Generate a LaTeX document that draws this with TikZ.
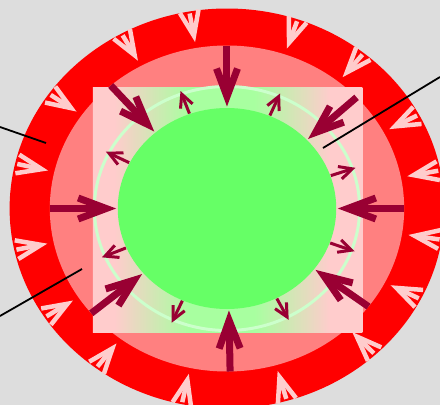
\documentclass[tikz,border=0pt]{standalone}
\usetikzlibrary{arrows.meta}

\definecolor{bggray}{HTML}{DDDDDD}
\definecolor{ringred}{HTML}{FF0000}
\definecolor{ringpink}{HTML}{FF8080}
\definecolor{palepink}{HTML}{FFCCCC}
\definecolor{sqgreen}{HTML}{A8FFA0}
\definecolor{rimgreen}{HTML}{CCFFCC}
\definecolor{coregreen}{HTML}{66FF66}
\definecolor{darkarrow}{HTML}{990033}

\pgfdeclarehorizontalshading{squarefade}{100bp}{color(0bp)=(palepink); color(29bp)=(palepink); color(43bp)=(sqgreen); color(55bp)=(sqgreen); color(69bp)=(palepink); color(100bp)=(palepink)}

\tikzset{
  palearrow/.style={draw=palepink, line width=4.5pt, -{Straight Barb[length=25pt,width=19pt]}},
  bigarrow/.style={draw=darkarrow, line width=7pt, -{Straight Barb[length=28pt,width=21pt]}},
  smallarrow/.style={draw=darkarrow, line width=3pt, -{Straight Barb[length=13pt,width=13pt]}},
  callout/.style={draw=black, line width=1.8pt}
}

\begin{document}
\begin{tikzpicture}[x=1pt, y=1pt]
  \useasboundingbox (-227,-196.5) rectangle (213,208.5);
  \clip (-227,-196.5) rectangle (213,208.5);
  \fill[bggray] (-227,-196.5) rectangle (213,208.5);
  \begin{scope}[xscale=1.087]
    % outer rings
    \fill[ringred] (0,0) circle (200);
    \fill[ringpink] (0,0) circle (163);
    % pale arrows in the red ring
    \foreach \a in {11,28,51,71,100,119,145,167,192,213,233,258,286,313,333,351}
      \draw[palearrow] (\a:198) -- (\a:169);
    % shaded square, rim and core
    \shade[shading=squarefade] (-123.5,-123.5) rectangle (124.5,121.5);
    \draw[rimgreen, line width=3pt] (0,0) circle (122);
    \fill[coregreen] (0,0) circle (100.5);
    % inward arrows
    \foreach \a in {90,43,0,-37,271,220,180,131}
      \draw[bigarrow] (\a:163) -- (\a:102);
    % outward arrows
    \foreach \a in {110,67,19,-20,-63,246,203,153}
      \draw[smallarrow] (\a:101) -- (\a:125);
  \end{scope}
  % callout lines
  \coordinate (tagTopLeft) at (-227,81.5);
  \coordinate (tagTopLeftEnd) at (-181,65.5);
  \coordinate (tagBottomLeft) at (-227,-107.5);
  \coordinate (tagBottomLeftEnd) at (-145,-60.5);
  \coordinate (tagRight) at (213,131.5);
  \coordinate (tagRightEnd) at (96,60.5);
  \draw[callout] (tagTopLeft) -- (tagTopLeftEnd);
  \draw[callout] (tagBottomLeft) -- (tagBottomLeftEnd);
  \draw[callout] (tagRight) -- (tagRightEnd);
\end{tikzpicture}
\end{document}
